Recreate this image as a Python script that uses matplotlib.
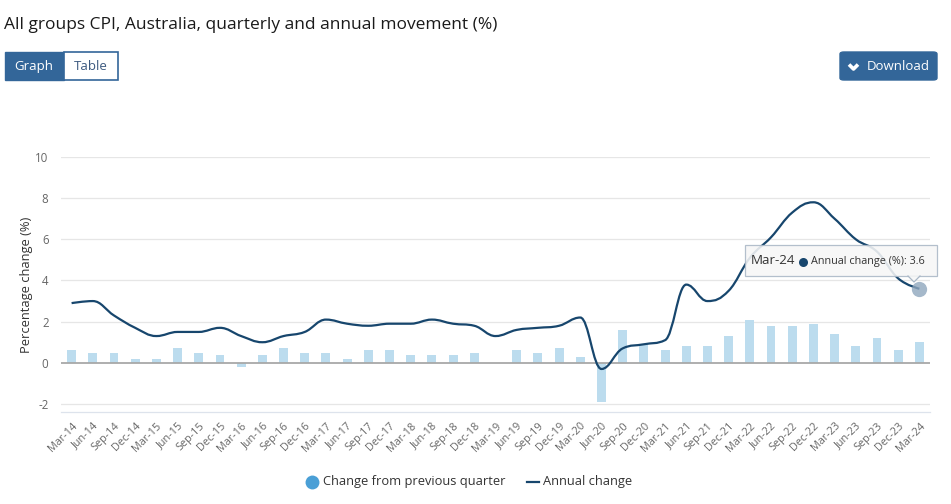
import numpy as np
import matplotlib
matplotlib.use('Agg')
import matplotlib.pyplot as plt
from matplotlib.path import Path
from matplotlib.patches import PathPatch, FancyBboxPatch, Polygon
from matplotlib.lines import Line2D

plt.rcParams['font.family'] = ['Open Sans', 'DejaVu Sans']

quarters = ['Mar-14', 'Jun-14', 'Sep-14', 'Dec-14', 'Mar-15', 'Jun-15', 'Sep-15', 'Dec-15',
            'Mar-16', 'Jun-16', 'Sep-16', 'Dec-16', 'Mar-17', 'Jun-17', 'Sep-17', 'Dec-17',
            'Mar-18', 'Jun-18', 'Sep-18', 'Dec-18', 'Mar-19', 'Jun-19', 'Sep-19', 'Dec-19',
            'Mar-20', 'Jun-20', 'Sep-20', 'Dec-20', 'Mar-21', 'Jun-21', 'Sep-21', 'Dec-21',
            'Mar-22', 'Jun-22', 'Sep-22', 'Dec-22', 'Mar-23', 'Jun-23', 'Sep-23', 'Dec-23',
            'Mar-24']
quarterly = [0.6, 0.5, 0.5, 0.2, 0.2, 0.7, 0.5, 0.4, -0.2, 0.4, 0.7, 0.5, 0.5, 0.2, 0.6, 0.6,
             0.4, 0.4, 0.4, 0.5, 0.0, 0.6, 0.5, 0.7, 0.3, -1.9, 1.6, 0.9, 0.6, 0.8, 0.8, 1.3,
             2.1, 1.8, 1.8, 1.9, 1.4, 0.8, 1.2, 0.6, 1.0]
annual = [2.9, 3.0, 2.3, 1.7, 1.3, 1.5, 1.5, 1.7, 1.3, 1.0, 1.3, 1.5, 2.1, 1.9, 1.8, 1.9,
          1.9, 2.1, 1.9, 1.8, 1.3, 1.6, 1.7, 1.8, 2.2, -0.3, 0.7, 0.9, 1.1, 3.8, 3.0, 3.5,
          5.1, 6.1, 7.3, 7.8, 7.0, 6.0, 5.4, 4.1, 3.6]
yticks = [-2, 0, 2, 4, 6, 8, 10]

W, H = 951, 504
BLUE_BTN = '#336699'
LINE_C = '#17466d'
BAR_C = '#bcdcee'


def fx(x):
    return x / W


def fy(y):
    return 1 - y / H


def spline_path(xs, ys):
    # highcharts style spline (smoothing 1.5)
    sm = 1.5
    den = sm + 1
    n = len(xs)
    lc = [(xs[i], ys[i]) for i in range(n)]
    rc = [(xs[i], ys[i]) for i in range(n)]
    for i in range(1, n - 1):
        lx, ly = xs[i - 1], ys[i - 1]
        nx, ny = xs[i + 1], ys[i + 1]
        px, py = xs[i], ys[i]
        lcx = (sm * px + lx) / den
        lcy = (sm * py + ly) / den
        rcx = (sm * px + nx) / den
        rcy = (sm * py + ny) / den
        if rcx != lcx:
            corr = ((rcy - lcy) * (rcx - px)) / (rcx - lcx) + py - rcy
            lcy += corr
            rcy += corr
        if lcy > ly and lcy > py:
            lcy = max(ly, py)
            rcy = 2 * py - lcy
        elif lcy < ly and lcy < py:
            lcy = min(ly, py)
            rcy = 2 * py - lcy
        if rcy > ny and rcy > py:
            rcy = max(ny, py)
            lcy = 2 * py - rcy
        elif rcy < ny and rcy < py:
            rcy = min(ny, py)
            lcy = 2 * py - rcy
        lc[i] = (lcx, lcy)
        rc[i] = (rcx, rcy)
    verts = [(xs[0], ys[0])]
    codes = [Path.MOVETO]
    for i in range(1, n):
        verts += [rc[i - 1], lc[i], (xs[i], ys[i])]
        codes += [Path.CURVE4] * 3
    return Path(verts, codes)


fig = plt.figure(figsize=(W / 100, H / 100), dpi=100)
ax = fig.add_axes([fx(61), fy(412), fx(930) - fx(61), fy(157) - fy(412)])

x = np.arange(len(quarters))
ax.bar(x, quarterly, width=0.42, color=BAR_C, zorder=2)
ax.add_patch(PathPatch(spline_path(x, annual), fill=False, edgecolor=LINE_C, lw=1.6, zorder=4))

ax.set_xlim(-0.5, len(quarters) - 0.5)
ax.set_ylim(-2.39, 10)
ax.set_yticks(yticks)
ax.set_yticklabels([str(t) for t in yticks])
ax.set_xticks(x)
ax.set_xticklabels(quarters, rotation=45, ha='right', va='top', rotation_mode='anchor')
ax.tick_params(axis='x', length=0, pad=6, labelsize=7.8, labelcolor='#666666')
ax.tick_params(axis='y', length=0, pad=9, labelsize=8.3, labelcolor='#666666')
for t in yticks:
    if t != 0:
        ax.axhline(t, color='#e6e6e6', lw=0.9, zorder=1)
ax.axhline(0, color='#a8a8a8', lw=1.3, zorder=3)
for s in ['top', 'right', 'left']:
    ax.spines[s].set_visible(False)
ax.spines['bottom'].set_color('#dde3ec')
ax.spines['bottom'].set_linewidth(0.9)
ax.set_ylabel('Percentage change (%)', fontsize=9.3, color='#333333', labelpad=1.5)

# hovered point
ax.plot(x[-1], annual[-1], 'o', ms=11, color='#8fa6bd', alpha=0.8, zorder=5, mec='none')

# title and buttons
fig.text(fx(4), fy(25), 'All groups CPI, Australia, quarterly and annual movement (%)',
         fontsize=12.5, color='#1a1a1a', va='center', ha='left')
fig.patches.append(FancyBboxPatch((fx(5), fy(80)), fx(59), fy(52) - fy(80),
                                  boxstyle='square,pad=0', fc=BLUE_BTN, ec=BLUE_BTN,
                                  transform=fig.transFigure, figure=fig))
fig.patches.append(FancyBboxPatch((fx(64), fy(80)), fx(54), fy(52) - fy(80),
                                  boxstyle='square,pad=0', fc='white', ec=BLUE_BTN, lw=1.2,
                                  transform=fig.transFigure, figure=fig))
fig.text(fx(34), fy(66.5), 'Graph', fontsize=9.5, color='white', ha='center', va='center')
fig.text(fx(91), fy(66.5), 'Table', fontsize=9.5, color='#3d5a80', ha='center', va='center')

fig.patches.append(FancyBboxPatch((fx(840), fy(80)), fx(97), fy(52) - fy(80),
                                  boxstyle='round,pad=0,rounding_size=0.004', fc=BLUE_BTN,
                                  ec=BLUE_BTN, transform=fig.transFigure, figure=fig))
fig.lines.append(Line2D([fx(849), fx(853.5), fx(858)], [fy(64.5), fy(69), fy(64.5)],
                        color='white', lw=2.6, solid_capstyle='butt',
                        transform=fig.transFigure, figure=fig))
fig.text(fx(867), fy(66.5), 'Download', fontsize=9.5, color='white', ha='left', va='center')

# tooltip
tip = FancyBboxPatch((fx(745), fy(276)), fx(937) - fx(745), fy(245) - fy(276),
                     boxstyle='square,pad=0', fc='#f7f7f7', ec='#a9b7c6', lw=0.9, alpha=0.88,
                     transform=fig.transFigure, figure=fig, zorder=10)
fig.patches.append(tip)
fig.patches.append(Polygon([(fx(908), fy(275.5)), (fx(920), fy(275.5)), (fx(914), fy(282))],
                           closed=True, fc='#f7f7f7', ec='none', alpha=0.88,
                           transform=fig.transFigure, figure=fig, zorder=11))
fig.lines.append(Line2D([fx(908), fx(914), fx(920)], [fy(276), fy(282), fy(276)],
                        color='#a9b7c6', lw=0.9, transform=fig.transFigure, figure=fig, zorder=12))
fig.text(fx(751), fy(261), quarters[-1], fontsize=9.6, color='#333333', ha='left', va='center',
         zorder=13)
fig.lines.append(Line2D([fx(803)], [fy(261.5)], marker='o', ms=6.5, color=LINE_C, mec='none',
                        transform=fig.transFigure, figure=fig, zorder=13))
fig.text(fx(811), fy(261.5), 'Annual change (%): ' + str(annual[-1]), fontsize=7.8,
         color='#333333', ha='left', va='center', zorder=13)

# legend
fig.lines.append(Line2D([fx(312)], [fy(482)], marker='o', ms=10, color='#4a9fd6', mec='none',
                        transform=fig.transFigure, figure=fig))
fig.text(fx(323), fy(482), 'Change from previous quarter', fontsize=9.3, color='#333333',
         ha='left', va='center')
fig.lines.append(Line2D([fx(527), fx(539)], [fy(482), fy(482)], color=LINE_C, lw=1.6,
                        transform=fig.transFigure, figure=fig))
fig.text(fx(543), fy(482), 'Annual change', fontsize=9.3, color='#333333', ha='left', va='center')

fig.savefig('out.png', dpi=100)
